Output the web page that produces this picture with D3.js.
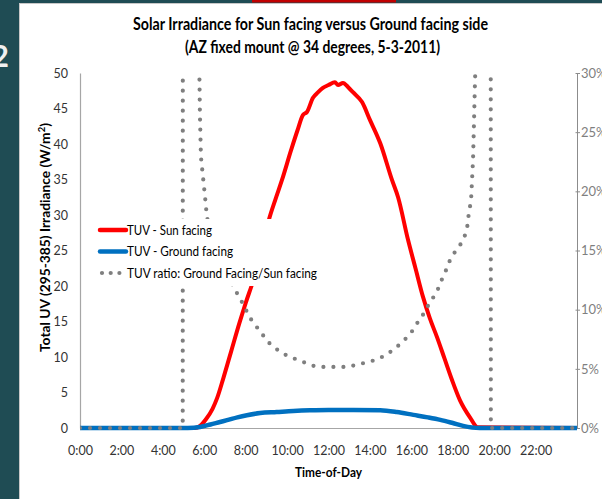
<!DOCTYPE html>
<html>
<head>
<meta charset="utf-8">
<script src="https://cdn.jsdelivr.net/npm/d3@7"></script>
<style>
body{margin:0;overflow:hidden;background:#fff}
</style>
</head>
<body>
<script>
// values (hour of day, W/m2 or % ratio)
var sunHours  = [0, 5.55, 5.8, 6.1, 6.4, 6.62, 6.92, 7.3, 7.7, 8.0, 8.35, 8.7, 9.13, 9.45, 9.75, 10.2, 10.5, 10.77, 10.96, 11.25, 11.5, 11.73, 12.0, 12.31, 12.46, 12.7, 12.95, 13.18, 13.62, 14.0, 14.5, 15.07, 15.36, 15.84, 16.2, 16.56, 16.9, 17.24, 17.6, 17.96, 18.35, 18.83, 19.2, 24];
var sunValues = [0, 0, 0.3, 1.3, 2.7, 4.2, 7.0, 10.8, 14.8, 17.6, 20.6, 24.0, 29.4, 32.3, 34.9, 39.2, 41.9, 44.1, 44.5, 46.5, 47.3, 47.9, 48.3, 48.7, 48.3, 48.6, 48.0, 47.3, 45.9, 43.4, 40.1, 34.9, 32.5, 26.5, 22.5, 18.5, 15.4, 12.8, 9.8, 6.8, 3.9, 1.5, 0.1, 0];

var groundHours  = [0, 5.2, 5.8, 6.3, 6.76, 7.1, 7.6, 8.06, 8.7, 9.5, 10.3, 11.1, 12.0, 13.2, 14.5, 15.3, 16.1, 16.8, 17.4, 18.0, 18.5, 19.3, 24];
var groundValues = [0, 0, 0.15, 0.5, 0.85, 1.1, 1.5, 1.8, 2.1, 2.25, 2.4, 2.5, 2.55, 2.55, 2.5, 2.25, 1.85, 1.5, 1.15, 0.7, 0.3, 0, 0];

var ratioHours  = [0, 4.96, 4.97, 5.73, 5.75, 5.79, 5.84, 5.94, 6.04, 6.13, 6.6, 7.1, 7.58, 7.82, 8.21, 8.55, 8.79, 9.08, 9.42, 9.75, 10.14, 10.53, 10.91, 11.3, 11.68, 12.12, 12.5, 12.89, 13.33, 13.71, 14.1, 14.49, 14.87, 15.21, 15.55, 15.84, 16.13, 16.37, 16.66, 16.85, 17.14, 17.33, 17.53, 17.72, 17.91, 18.16, 18.45, 18.64, 18.73, 18.78, 18.88, 18.93, 18.98, 19.02, 19.07, 19.12, 19.83, 19.84, 24];
var ratioValues = [0, 0, 60, 60, 32, 26.6, 22.9, 21.2, 19.5, 17.8, 14.8, 12.9, 11.4, 10.65, 9.3, 8.5, 7.95, 7.27, 6.76, 6.34, 6.0, 5.75, 5.49, 5.24, 5.16, 5.16, 5.16, 5.16, 5.33, 5.49, 5.66, 5.92, 6.26, 6.76, 7.19, 7.78, 8.37, 9.13, 9.8, 10.5, 11.24, 11.9, 12.8, 13.5, 14.4, 15.0, 15.7, 16.5, 17.3, 18.3, 19.1, 20.9, 22.7, 25.4, 29.0, 32, 60, 0, 0];

var xTickHours = [0, 2, 4, 6, 8, 10, 12, 14, 16, 18, 20, 22];
var yTicks = [0, 5, 10, 15, 20, 25, 30, 35, 40, 45, 50];
var ratioTicks = [0, 5, 10, 15, 20, 25, 30];
var seriesNames = ["TUV - Sun facing", "TUV - Ground facing", "TUV ratio: Ground Facing/Sun facing"];

var svgWidth = 602, svgHeight = 499;
var margin = {top:73, right:25, bottom:71, left:80};
var width = svgWidth - margin.left - margin.right;
var height = svgHeight - margin.top - margin.bottom;
var font = "Lato, 'Open Sans', sans-serif";

var svg = d3.select("body")
    .append("svg")
    .attr("width", svgWidth)
    .attr("height", svgHeight)
    .style("font-family", font);

// slide frame
svg.append("rect").attr("width", svgWidth).attr("height", svgHeight).attr("fill", "#1f4c54");
svg.append("rect").attr("x", 252).attr("y", 0).attr("width", 144).attr("height", 2.5).attr("fill", "#c00000");
svg.append("rect").attr("x", 19.5).attr("y", 3.5).attr("width", 600).attr("height", 500)
    .attr("fill", "#fff").attr("stroke", "#c8c8c8");
svg.append("text").attr("x", 9).attr("y", 67).attr("text-anchor", "end")
    .attr("font-size", "30px").attr("font-weight", "bold").attr("fill", "#f0f0f0").text("2");

var x = d3.scaleLinear().domain([0, 24]).range([0, width]);
var y = d3.scaleLinear().domain([0, 50]).range([height, 0]);
var y2 = d3.scaleLinear().domain([0, 30]).range([height, 0]);

var g = svg.append("g")
    .attr("transform", "translate(" + margin.left + "," + margin.top + ")");

// axes
var ax = g.append("g")
    .attr("transform", "translate(0," + height + ")")
    .call(d3.axisBottom(x).tickValues(xTickHours).tickFormat(function(d){ return d + ":00"; })
          .tickSize(0).tickPadding(18));
var ay = g.append("g")
    .call(d3.axisLeft(y).tickValues(yTicks).tickSize(0).tickPadding(12));
var ay2 = g.append("g")
    .attr("transform", "translate(" + width + ",0)")
    .call(d3.axisRight(y2).tickValues(ratioTicks).tickFormat(function(d){ return d + "%"; })
          .tickSizeInner(3).tickSizeOuter(0).tickPadding(1));

[ax, ay].forEach(function(a){
  a.select(".domain").attr("stroke", "#a6a6a6").attr("stroke-width", 1.2);
  a.selectAll("text").attr("fill", "#333").attr("font-size", "12.5px").attr("font-family", font);
});
ay2.select(".domain").attr("stroke", "#8c8c8c");
ay2.selectAll("line").attr("stroke", "#8c8c8c").attr("x1", -1.5);
ay2.selectAll("text").attr("fill", "#7f7f7f").attr("font-size", "13px").attr("font-family", font);

// series
svg.append("clipPath").attr("id", "plotclip")
   .append("rect").attr("x", 0).attr("y", 0).attr("width", width + 2).attr("height", height + 4);

var plot = g.append("g").attr("clip-path", "url(#plotclip)");

function pairs(hs, vs){
  return hs.map(function(h, i){ return {h: h, v: vs[i]}; });
}

var lineY = d3.line().x(function(d){ return x(d.h); }).y(function(d){ return y(d.v); })
    .curve(d3.curveMonotoneX);
var lineR = d3.line().x(function(d){ return x(d.h); }).y(function(d){ return y2(d.v); });

plot.append("path")
    .datum(pairs(sunHours, sunValues))
    .attr("d", lineY)
    .attr("fill", "none").attr("stroke", "#ff0000").attr("stroke-width", 4)
    .attr("stroke-linejoin", "round");

plot.append("path")
    .datum(pairs(groundHours, groundValues))
    .attr("d", lineY)
    .attr("fill", "none").attr("stroke", "#0070c0").attr("stroke-width", 4.5)
    .attr("stroke-linejoin", "round");

plot.append("path")
    .datum(pairs(ratioHours, ratioValues))
    .attr("d", lineR)
    .attr("fill", "none").attr("stroke", "#7f7f7f").attr("stroke-width", 4.2)
    .attr("stroke-linecap", "round").attr("stroke-dasharray", "0 10");

// legend
var lg = g.append("g").attr("transform", "translate(" + (97 - margin.left) + "," + (219 - margin.top) + ")");
lg.append("rect").attr("width", 229).attr("height", 67).attr("fill", "#fff");
var legendColors = ["#ff0000", "#0070c0", "#7f7f7f"];
var legendWidths = [85, 106, 190];
seriesNames.forEach(function(name, i){
  var row = lg.append("g").attr("transform", "translate(0," + (11 + i * 21.5) + ")");
  var ln = row.append("line").attr("x1", i == 2 ? 5 : 3).attr("x2", i == 2 ? 23 : 29)
      .attr("stroke", legendColors[i]);
  if(i == 2){
    ln.attr("stroke-width", 4.2).attr("stroke-linecap", "round").attr("stroke-dasharray", "0 8.7");
  } else {
    ln.attr("stroke-width", 4.5).attr("stroke-linecap", "round");
  }
  row.append("text").attr("x", 30).attr("y", 4.5)
     .attr("font-size", "13.5px").attr("fill", "#000")
     .attr("textLength", legendWidths[i]).attr("lengthAdjust", "spacingAndGlyphs")
     .text(name);
});

// titles
svg.append("text").attr("x", 310.5).attr("y", 30).attr("text-anchor", "middle")
   .attr("font-size", "16.5px").attr("font-weight", "bold")
   .attr("textLength", 355).attr("lengthAdjust", "spacingAndGlyphs")
   .text("Solar Irradiance  for Sun facing versus Ground facing side");
svg.append("text").attr("x", 312.5).attr("y", 53).attr("text-anchor", "middle")
   .attr("font-size", "16.5px").attr("font-weight", "bold")
   .attr("textLength", 255).attr("lengthAdjust", "spacingAndGlyphs")
   .text("(AZ fixed mount @ 34 degrees, 5-3-2011)");

svg.append("text").attr("x", 328.5).attr("y", 477).attr("text-anchor", "middle")
   .attr("font-size", "13px").attr("font-weight", "bold")
   .attr("textLength", 67).attr("lengthAdjust", "spacingAndGlyphs")
   .text("Time-of-Day");

var yt = svg.append("text")
   .attr("transform", "translate(49.5,237.5) rotate(-90)")
   .attr("text-anchor", "middle")
   .attr("font-size", "13px").attr("font-weight", "bold")
   .attr("textLength", 229).attr("lengthAdjust", "spacingAndGlyphs");
yt.append("tspan").text("Total UV (295-385) Irradiance  (W/m");
yt.append("tspan").attr("baseline-shift", "super").attr("font-size", "9px").text("2");
yt.append("tspan").text(")");
</script>
</body>
</html>
